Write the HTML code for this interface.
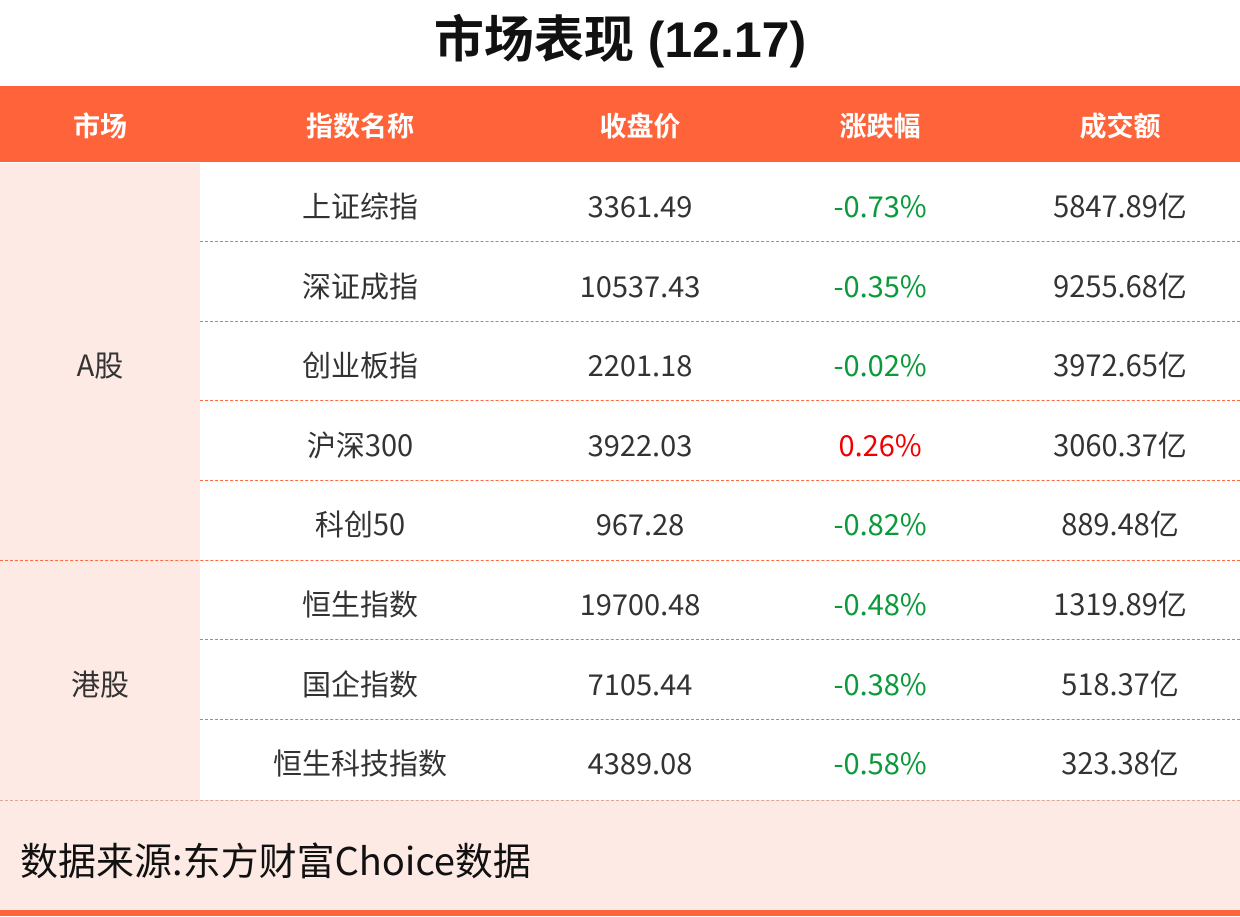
<!DOCTYPE html>
<html><head><meta charset="utf-8"><style>
body{margin:0;width:1240px;height:916px;background:#fff;position:relative;overflow:hidden;font-family:"Noto Sans CJK SC","Liberation Sans",sans-serif}
div{position:absolute;box-sizing:border-box}
.t{text-align:center;font-size:29px;color:#333;line-height:84px}
.h{color:#fff;font-weight:bold;font-size:27px;line-height:78px;text-align:center;top:86px}
.g{color:#0a9a3a}.r{color:#f00000}
.dl{height:0;border-top:1.5px dashed #ff6a40}
</style></head><body>
<div style="left:0;top:0;width:1240px;height:84px;text-align:center;font-size:50px;font-weight:bold;line-height:80px;color:#111;font-family:'Liberation Sans','Noto Sans CJK SC',sans-serif">市场表现 (12.17)</div>
<div style="left:0;top:86px;width:1240px;height:76px;background:#ff6339"></div>
<div class="h" style="left:0;width:200px">市场</div>
<div class="h" style="left:240px;width:240px">指数名称</div>
<div class="h" style="left:520px;width:240px">收盘价</div>
<div class="h" style="left:760px;width:240px">涨跌幅</div>
<div class="h" style="left:1000px;width:240px">成交额</div>
<div style="left:0;top:163px;width:200px;height:637px;background:#feeae4"></div>
<div class="t" style="left:0;top:322px;width:200px">A股</div>
<div class="t" style="left:0;top:641px;width:200px">港股</div>
<div class="dl" style="left:0;top:560px;width:1240px"></div>
<div style="left:0;top:800px;width:1240px;height:110px;background:#feeae4;border-top:1.5px dashed #d8a898;font-size:38px;line-height:116px;padding-left:20px;color:#111">数据来源:东方财富Choice数据</div>
<div style="left:0;top:910px;width:1240px;height:6px;background:#ff6339"></div>
<script>
const names=["上证综指","深证成指","创业板指","沪深300","科创50","恒生指数","国企指数","恒生科技指数"];
const closes=["3361.49","10537.43","2201.18","3922.03","967.28","19700.48","7105.44","4389.08"];
const changes=[-0.73,-0.35,-0.02,0.26,-0.82,-0.48,-0.38,-0.58];
const turnovers=["5847.89亿","9255.68亿","3972.65亿","3060.37亿","889.48亿","1319.89亿","518.37亿","323.38亿"];
const root=document.body;
names.forEach((n,i)=>{
 const top=163+i*79.6;
 const cells=[[n,240,'index-name'],[closes[i],520,'close'],[changes[i].toFixed(2)+'%',760,'change'],[turnovers[i],1000,'turnover']];
 cells.forEach(([txt,x,k])=>{
  const d=document.createElement('div');
  d.className='t'+(k==='change'?(changes[i]<0?' g':' r'):'');
  d.style.cssText=`left:${x}px;top:${top}px;width:240px`;
  d.textContent=txt;
  
  
  root.appendChild(d);
 });
 if(i<names.length-1&&i!==4){
  const l=document.createElement('div');
  l.className='dl';
  l.style.cssText=`left:200px;top:${top+78}px;width:1040px`;
  
  
  root.appendChild(l);
 }
});
</script>
</body></html>
